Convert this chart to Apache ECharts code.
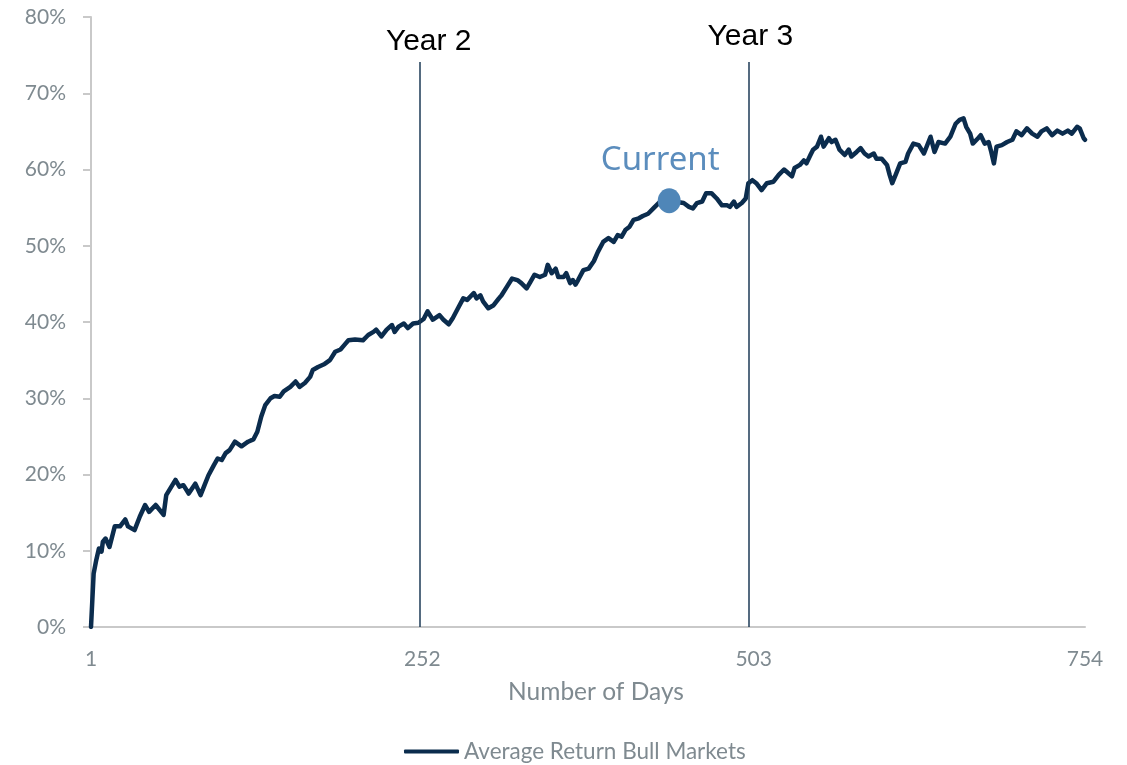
<!DOCTYPE html>
<html>
<head>
<meta charset="utf-8">
<script src="https://cdn.jsdelivr.net/npm/echarts@6/dist/echarts.min.js"></script>
<style>
  html, body { margin: 0; padding: 0; background: #ffffff; }
  #chart { width: 1127px; height: 765px; }
</style>
</head>
<body>
<div id="chart"></div>
<script>
// Trading day number (1..754)
const days = [1,3,5,7,9,10,12,15,19,23,27,29,34,38,42,45,50,56,58,65,68,71,75,80,84,87,90,94,97,100,103,106,110,115,120,124,127,130,133,137,140,144,147,152,156,159,163,167,169,173,178,182,186,190,193,196,201,207,211,215,217,221,225,229,231,234,238,241,245,249,253,256,260,265,268,272,275,279,283,286,291,293,296,298,302,306,310,312,316,320,324,327,331,334,337,341,345,347,350,353,355,359,361,364,366,368,370,374,378,382,385,389,393,397,400,403,406,409,412,416,419,423,427,431,439,450,454,457,460,464,467,471,475,479,483,485,488,490,494,497,499,502,505,509,513,518,522,526,528,532,534,538,541,543,546,548,551,554,556,560,562,565,568,572,575,577,581,584,587,590,594,596,600,604,606,608,611,614,618,620,624,628,632,637,640,643,648,652,656,659,662,664,667,669,673,675,678,681,683,685,687,691,695,699,702,706,710,714,718,721,725,729,733,737,741,744,748,750,753,754];
// Average return of bull markets (%)
const avgReturn = [0,7.0,8.8,10.3,9.9,11.2,11.6,10.5,13.2,13.2,14.1,13.2,12.7,14.5,16.0,15.1,16.0,14.7,17.3,19.3,18.4,18.6,17.5,18.8,17.3,18.6,19.9,21.2,22.1,21.9,22.8,23.2,24.3,23.7,24.3,24.6,25.6,27.6,29.1,30.0,30.3,30.2,30.9,31.5,32.2,31.5,32.0,32.8,33.7,34.1,34.5,35.0,36.1,36.4,37.0,37.6,37.7,37.6,38.3,38.7,39.0,38.1,39.0,39.6,38.7,39.4,39.8,39.2,39.8,39.9,40.4,41.4,40.3,40.9,40.3,39.7,40.5,41.8,43.1,42.9,43.8,43.1,43.5,42.7,41.8,42.2,43.1,43.5,44.6,45.7,45.5,45.1,44.4,45.3,46.2,45.9,46.2,47.5,46.4,47.0,45.9,45.9,46.4,45.1,45.5,44.9,45.5,46.8,47.0,48.0,49.2,50.5,51.0,50.5,51.4,51.2,52.1,52.5,53.4,53.6,53.9,54.2,54.9,55.6,55.9,55.6,55.1,54.9,55.6,55.8,56.9,56.9,56.2,55.3,55.3,55.1,55.8,55.1,55.6,56.2,58.2,58.6,58.2,57.3,58.2,58.4,59.3,60.0,59.7,59.1,60.2,60.6,61.2,60.8,61.9,62.6,63.0,64.3,63.0,64.1,63.6,63.9,62.6,61.9,62.6,61.7,62.3,62.8,62.1,61.7,62.1,61.4,61.4,60.6,59.3,58.2,59.5,60.8,61.0,62.1,63.4,63.2,62.1,64.3,62.3,63.6,63.4,64.3,66.0,66.5,66.7,65.6,64.7,63.4,64.1,64.5,63.4,63.6,62.3,60.8,63.0,63.2,63.6,63.9,65.0,64.5,65.4,64.7,64.3,65.0,65.4,64.5,65.1,64.7,65.1,64.7,65.6,65.4,64.1,63.9];

const seriesName = 'Average Return Bull Markets';
const xTickLabels = ['1', '252', '503', '754'];
const yTicks = [0, 10, 20, 30, 40, 50, 60, 70, 80];

// Year markers (day where the vertical line is drawn) and their labels
const yearLineDays = [250, 499];
const yearLabels = ['Year 2', 'Year 3'];
const yearLineTop = 74.1;

// Current position
const currentDay = 439;
const currentValue = 55.9;
const currentLabel = 'Current';

const lineData = days.map((d, i) => [d - 1, avgReturn[i]]);

const gray = '#7f8a90';
const axisGray = '#c9c9c9';
const navy = '#0b2c4d';
const font = 'Lato';

const chart = echarts.init(document.getElementById('chart'), null, { renderer: 'canvas' });

chart.setOption({
  animation: false,
  backgroundColor: '#ffffff',
  grid: { left: 91, right: 42, top: 17, bottom: 138, containLabel: false },
  legend: {
    data: [{ name: seriesName, icon: 'roundRect' }],
    bottom: -3,
    left: 399,
    itemWidth: 55,
    itemHeight: 4,
    itemStyle: { color: navy },
    textStyle: { color: gray, fontSize: 22.5, fontFamily: font }
  },
  xAxis: {
    type: 'value',
    min: 0,
    max: 753,
    interval: 251,
    name: 'Number of Days',
    nameLocation: 'middle',
    nameGap: 53,
    nameTextStyle: { color: gray, fontSize: 24.5, fontFamily: font, padding: [0, 0, 0, 16] },
    axisLine: { show: true, lineStyle: { color: axisGray, width: 2 } },
    axisTick: { show: false },
    splitLine: { show: false },
    axisLabel: {
      color: gray, fontSize: 21, fontFamily: font, margin: 22,
      formatter: (v) => xTickLabels[Math.round(v / 251)]
    }
  },
  yAxis: {
    type: 'value',
    min: yTicks[0],
    max: yTicks[yTicks.length - 1],
    interval: 10,
    axisLine: { show: true, lineStyle: { color: axisGray, width: 2 } },
    axisTick: { show: true, length: 8, lineStyle: { color: axisGray, width: 2 } },
    splitLine: { show: false },
    axisLabel: { color: gray, fontSize: 21, fontFamily: font, margin: 25, formatter: '{value}%' }
  },
  series: [
    {
      name: seriesName,
      type: 'line',
      data: lineData,
      symbol: 'none',
      smooth: false,
      lineStyle: { color: navy, width: 4.5, join: 'round', cap: 'round' },
      itemStyle: { color: navy },
      z: 3,
      markLine: {
        silent: true,
        symbol: ['none', 'none'],
        animation: false,
        lineStyle: { color: '#1c3a56', width: 1.5, type: 'solid' },
        data: yearLineDays.map((d, i) => [
          {
            coord: [d - 1, 0],
            label: {
              show: true,
              position: 'end',
              formatter: yearLabels[i],
              color: '#000000',
              fontSize: 30,
              fontFamily: 'Liberation Sans',
              distance: i === 0 ? 5 : 10,
              padding: i === 0 ? [0, 0, 0, 18] : [0, 0, 0, 4]
            }
          },
          { coord: [d - 1, yearLineTop] }
        ])
      }
    },
    {
      name: currentLabel,
      type: 'scatter',
      data: [[currentDay - 1, currentValue]],
      symbol: 'circle',
      symbolSize: [23, 25],
      itemStyle: { color: '#4f86b8', opacity: 1 },
      z: 5,
      label: {
        show: true,
        position: 'top',
        distance: 11,
        offset: [-9, 0],
        formatter: currentLabel,
        color: '#5b8dbd',
        fontSize: 33,
        fontFamily: 'Noto Sans'
      }
    }
  ]
});
</script>
</body>
</html>
